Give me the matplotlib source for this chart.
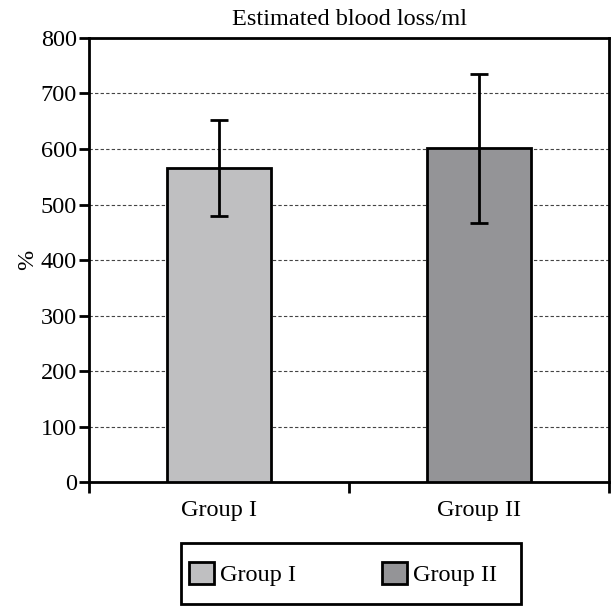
import matplotlib
matplotlib.use("Agg")
import matplotlib.pyplot as plt
from matplotlib.patches import Rectangle
import numpy as np

# values
groups = ["Group I", "Group II"]
means = [566, 601]
sds = [86, 134]
colors = ["#bfbfc1", "#949497"]

plt.rcParams['font.family'] = ['Liberation Serif', 'DejaVu Serif']
fs = 17.5

fig = plt.figure(figsize=(6.13, 6.06), dpi=100)
ax = fig.add_axes([0.1460, 0.2046, 0.8475, 0.7327])

x = np.arange(len(groups))
bars = ax.bar(x, means, width=0.4, color=colors, edgecolor="black", linewidth=2,
              label=groups, zorder=3)
ax.errorbar(x, means, yerr=sds, fmt="none", ecolor="black", elinewidth=2,
            capsize=6.5, capthick=2, zorder=4)

ax.set_xlim(-0.5, 1.5)
ax.set_ylim(0, 800)
ax.set_yticks(np.arange(0, 801, 100))
ax.yaxis.grid(True, linestyle=(0, (3, 2)), color="#444444", linewidth=0.8, zorder=0)

ax.set_xticks(x)
ax.set_xticklabels(groups, fontsize=fs)
ax.tick_params(axis="x", which="major", length=0, pad=13)
ax.set_xticks([-0.5, 0.5, 1.5], minor=True)
ax.tick_params(axis="x", which="minor", length=8, width=2)
ax.tick_params(axis="y", length=7, width=2, labelsize=fs, pad=2)

for s in ax.spines.values():
    s.set_linewidth(2)

ax.set_title("Estimated blood loss/ml", fontsize=fs, pad=9)
ax.set_ylabel("%", fontsize=fs, labelpad=2)

# legend box drawn by hand, legend itself without frame
fig.patches.append(Rectangle((0.2953, 0.0033), 0.5546, 0.1007, transform=fig.transFigure,
                             fill=False, edgecolor="black", linewidth=2))
leg = fig.legend(handles=bars.patches, labels=groups, ncol=2, loc="center",
                 bbox_to_anchor=(0.5595, 0.0528), fontsize=fs, frameon=False,
                 handlelength=1.05, handleheight=1.0, columnspacing=3.5,
                 borderpad=0, handletextpad=0.25)

fig.savefig("out.png", dpi=100)
